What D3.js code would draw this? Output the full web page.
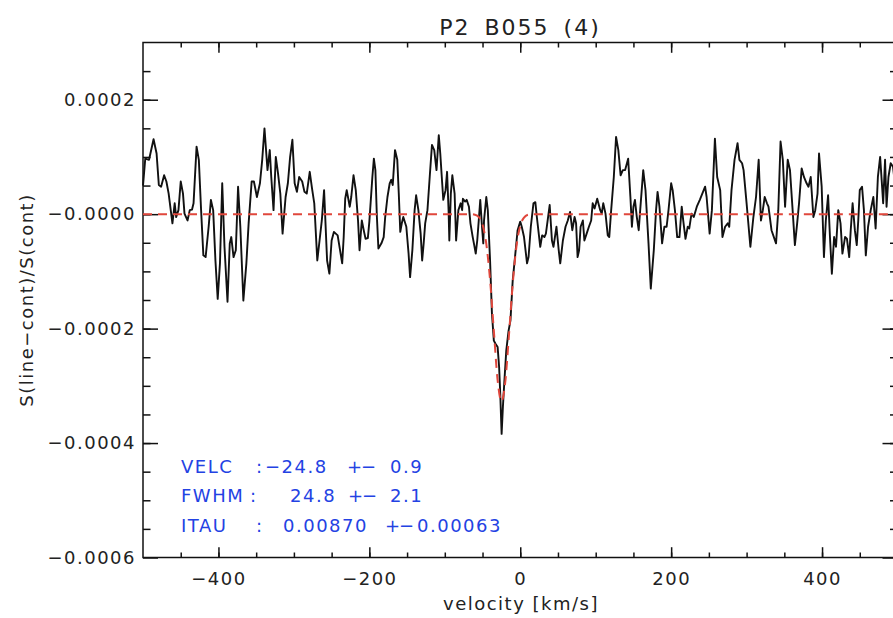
<!DOCTYPE html>
<html>
<head>
<meta charset="utf-8">
<script src="https://cdn.jsdelivr.net/npm/d3@7"></script>
<style>
    body { margin: 0; background: #fff; }
    text { font-family: "DejaVu Sans", sans-serif; fill: #222; }
</style>
</head>
<body>
<div id="chart"></div>
<script>
// Spectrum [velocity km/s, S(line-cont)/S(cont) in units of 1e-4]
const spectrum = [
    [-500, 0.50], [-497, 0.97], [-492, 0.95], [-486, 1.31], [-482, 1.06], [-479, 0.51], [-476, 0.48],
    [-472, 0.68], [-469, 0.57], [-466, 0.36], [-461, -0.16], [-458, 0.19], [-456, -0.05], [-453, 0.07],
    [-450, 0.57], [-447, 0.36], [-445, 0.01], [-441, -0.11], [-438, 0.07], [-435, 0.08], [-433, 0.19],
    [-429, 1.18], [-426, 0.95], [-423, 0.07], [-420, -0.72], [-417, -0.75], [-413, -0.22], [-410, 0.25],
    [-407, 0.07], [-404, -0.81], [-401, -1.48], [-398, -0.86], [-395, 0.54], [-392, -0.57], [-388, -1.53],
    [-385, -0.51], [-383, -0.40], [-380, -0.75], [-377, -0.63], [-374, 0.48], [-371, -0.22], [-367, -1.51],
    [-363, -0.86], [-360, -0.16], [-356, 0.57], [-353, 0.57], [-349, 0.30], [-345, 0.54], [-342, 0.95],
    [-339, 1.50], [-335, 0.77], [-332, 1.12], [-330, 0.65], [-327, 0.07], [-324, 1.00], [-321, 0.71],
    [-318, 0.36], [-315, -0.34], [-311, 0.30], [-308, 0.54], [-305, 1.00], [-302, 1.30], [-299, 0.54],
    [-296, 0.39], [-293, 0.65], [-289, 0.57], [-286, 0.39], [-283, 0.36], [-279, 0.74], [-276, 0.45],
    [-273, 0.19], [-269, -0.81], [-266, -0.46], [-263, -0.11], [-260, 0.42], [-256, -0.81], [-253, -1.04],
    [-250, -0.46], [-247, -0.31], [-242, -0.37], [-236, -0.86], [-234, -0.40], [-232, 0.27], [-230, 0.42],
    [-226, 0.13], [-224, 0.30], [-221, 0.68], [-218, 0.42], [-215, -0.11], [-213, -0.63], [-210, -0.11],
    [-207, -0.31], [-205, -0.43], [-202, -0.42], [-200, -0.13], [-196, 0.65], [-194, 0.97], [-192, 0.77],
    [-190, -0.05], [-188, -0.60], [-184, -0.51], [-181, -0.40], [-179, -0.05], [-176, 0.30], [-173, 0.54],
    [-171, 0.60], [-169, 0.51], [-166, 1.12], [-163, 0.95], [-161, 0.36], [-159, -0.31], [-157, -0.16],
    [-155, -0.05], [-151, -0.22], [-148, -0.69], [-146, -1.10], [-143, -0.63], [-140, 0.07], [-138, 0.33],
    [-135, 0.07], [-132, -0.34], [-130, -0.81], [-128, -0.51], [-126, -0.16], [-123, 0.07], [-120, 0.65],
    [-117, 1.21], [-114, 1.12], [-111, 0.77], [-108, 1.38], [-106, 1.06], [-104, 0.65], [-102, 0.25],
    [-99, 0.42], [-97, 0.74], [-95, 0.07], [-94, -0.46], [-92, 0.36], [-90, 0.68], [-87, 0.36],
    [-85, -0.46], [-82, 0.07], [-79, 0.19], [-77, 0.07], [-76, 0.27], [-73, 0.22], [-71, 0.25],
    [-68, 0.13], [-66, -0.16], [-63, -0.40], [-61, -0.54], [-59, -0.69], [-57, -0.46], [-55, -0.11],
    [-53, 0.25], [-51, -0.16], [-49, -0.51], [-48, -0.11], [-45, 0.30], [-43, 0.07], [-40, -0.81],
    [-37.5, -1.74], [-35, -2.21], [-33, -2.26], [-30, -2.32], [-28, -2.67], [-26.5, -3.14], [-24.7, -3.84],
    [-23, -3.37], [-21, -2.91], [-18.5, -2.38], [-15.5, -2.04], [-13, -1.86], [-10, -1.16], [-6.5, -0.69],
    [-3.5, -0.28], [0, -0.13], [2, -0.22], [5, -0.40], [9, -0.86], [11, -0.75], [14, -0.22],
    [17.5, 0.19], [20, 0.21], [22, -0.05], [26.5, -0.57], [29, -0.37], [32, -0.40], [34, -0.34],
    [39, 0.16], [42, -0.46], [44, -0.57], [48, -0.22], [51, -0.63], [53, -0.86], [56.5, -0.46],
    [60, -0.22], [63, -0.11], [66, 0.04], [69, -0.28], [72, -0.05], [74, -0.16], [76, -0.75],
    [78, -0.63], [80, -0.22], [83, -0.11], [85, -0.46], [88, -0.34], [91, -0.22], [94, -0.11],
    [96, 0.19], [98.5, 0.10], [102, 0.27], [106, 0.07], [108, 0.01], [110, 0.19], [113, 0.01],
    [116, -0.37], [118, -0.40], [120.5, 0.07], [124, 0.65], [127, 1.35], [130, 1.12], [133, 0.68],
    [136, 0.77], [139, 0.77], [143, 0.97], [146, 0.30], [148, -0.22], [150, 0.13], [152, 0.25],
    [154.5, -0.05], [157, -0.28], [160, 0.25], [163, 0.77], [166, 0.42], [170, -0.51], [173, -1.30],
    [177, -0.63], [180, 0.07], [182, 0.39], [184.5, 0.13], [188, -0.51], [191, -0.22], [194, -0.22],
    [196.5, 0.07], [200, 0.54], [202, 0.42], [205, 0.07], [208, -0.40], [211, -0.40], [214, 0.13],
    [216, -0.11], [219, -0.43], [222, -0.22], [224, -0.25], [227, 0.01], [230, -0.05], [234, 0.13],
    [238, 0.25], [245, 0.48], [247, 0.30], [251, -0.34], [254, 0.07], [258, 1.32], [261, 0.65],
    [265, 0.42], [268, -0.40], [271.5, -0.22], [275, -0.16], [277, -0.22], [280, 0.42], [284, 0.95],
    [288, 1.24], [290.5, 0.95], [294, 0.89], [296, 0.77], [300, 0.19], [305, -0.57], [309, -0.05],
    [312.5, 0.30], [316, 0.95], [319, -0.11], [321.5, 0.07], [324, 0.30], [327, 0.19], [329, 0.13],
    [333, -0.28], [339, -0.51], [342, 0.07], [345, 1.27], [348, 0.95], [351, 0.13], [354.5, 0.95],
    [357.5, 0.77], [361, 0.07], [364, -0.54], [367, -0.16], [369.5, 0.19], [373, 0.80], [376, 0.65],
    [379.5, 0.54], [382, 0.48], [385, 0.65], [388.5, -0.05], [391, 0.07], [394, 0.36], [396, 1.06],
    [399.5, 0.48], [402.5, -0.75], [405, -0.11], [408, 0.33], [410.5, -0.40], [413, -1.04], [416, -0.40],
    [418.5, -0.57], [421.5, 0.07], [424.5, -0.16], [427, -0.69], [430.5, -0.40], [433, -0.43], [436, -0.75],
    [438, -0.28], [440.5, 0.19], [443.5, -0.28], [446, -0.54], [448, -0.11], [450, 0.42], [453, 0.48],
    [455.5, 0.07], [458, -0.72], [461, -0.22], [464.5, 0.07], [468, 0.30], [471, -0.25], [474, 0.65],
    [477, 1.00], [479, 0.60], [481, 0.19], [483.5, 0.95], [485.5, 0.13], [488, 0.65], [491, 0.89],
    [494, 0.83], [497, 0.50], [500, 0.90]
];

// Gaussian fit [velocity, value in 1e-4]
const fitCurve = [
    [-500, 0], [-65, 0], [-60, -0.01], [-55, -0.05], [-50, -0.18], [-45, -0.52], [-40, -1.15],
    [-35, -2.04], [-30, -2.90], [-25, -3.27], [-20, -2.95], [-15, -2.12], [-10, -1.22], [-5, -0.56],
    [0, -0.20], [5, -0.06], [10, -0.01], [15, 0], [500, 0]
];

const xTickValues = [-400, -200, 0, 200, 400];
const xTickLabels = ['\u2212400', '\u2212200', '0', '200', '400'];
const yTickValues = [-0.0006, -0.0004, -0.0002, 0, 0.0002];
const yTickLabels = ['\u22120.0006', '\u22120.0004', '\u22120.0002', '\u22120.0000', '0.0002'];

const fitResults = [
    { name: 'VELC', value: '\u221224.8', error: '0.9' },
    { name: 'FWHM', value: '24.8', error: '2.1' },
    { name: 'ITAU', value: '0.00870', error: '0.00063' }
];

// Configuration
const config = {
    width: 893,
    height: 618,
    left: 143, right: 897.5, top: 42.5, bottom: 557.5,
    xDomain: [-500, 500],
    yDomain: [-0.0006, 0.0003],
    scale: 1e-4
};

const svg = d3.select('#chart')
    .append('svg')
    .attr('width', config.width)
    .attr('height', config.height);

const x = d3.scaleLinear().domain(config.xDomain).range([config.left, config.right]);
const y = d3.scaleLinear().domain(config.yDomain).range([config.bottom, config.top]);

// Minor ticks
const xMinor = d3.range(-450, 500, 50);
const yMinor = d3.range(-0.00055, 0.0003, 0.00005);

function styleAxis(g) {
    g.select('.domain').remove();
    g.selectAll('.tick line').attr('stroke', '#111').attr('stroke-width', 1.5);
    g.selectAll('.tick text')
        .style('font-size', '18px')
        .style('letter-spacing', '1.5px')
        .attr('fill', '#222');
}

// bottom axis
svg.append('g')
    .attr('transform', `translate(0,${config.bottom})`)
    .call(d3.axisBottom(x).tickValues(xTickValues).tickSize(-10.3).tickPadding(15)
        .tickFormat((d, i) => xTickLabels[i]))
    .call(styleAxis);
svg.append('g')
    .attr('transform', `translate(0,${config.bottom})`)
    .call(d3.axisBottom(x).tickValues(xMinor).tickSize(-5).tickFormat(''))
    .call(styleAxis);

// top axis
svg.append('g')
    .attr('transform', `translate(0,${config.top})`)
    .call(d3.axisTop(x).tickValues(xTickValues).tickSize(-10.3).tickFormat(''))
    .call(styleAxis);
svg.append('g')
    .attr('transform', `translate(0,${config.top})`)
    .call(d3.axisTop(x).tickValues(xMinor).tickSize(-5).tickFormat(''))
    .call(styleAxis);

// left axis
svg.append('g')
    .attr('transform', `translate(${config.left},0)`)
    .call(d3.axisLeft(y).tickValues(yTickValues).tickSize(-15).tickPadding(7)
        .tickFormat((d, i) => yTickLabels[i]))
    .call(styleAxis);
svg.append('g')
    .attr('transform', `translate(${config.left},0)`)
    .call(d3.axisLeft(y).tickValues(yMinor).tickSize(-7.5).tickFormat(''))
    .call(styleAxis);

// right axis
svg.append('g')
    .attr('transform', `translate(${config.right},0)`)
    .call(d3.axisRight(y).tickValues(yTickValues).tickSize(-15).tickFormat(''))
    .call(styleAxis);
svg.append('g')
    .attr('transform', `translate(${config.right},0)`)
    .call(d3.axisRight(y).tickValues(yMinor).tickSize(-7.5).tickFormat(''))
    .call(styleAxis);

// frame
svg.append('rect')
    .attr('x', config.left)
    .attr('y', config.top)
    .attr('width', config.right - config.left)
    .attr('height', config.bottom - config.top)
    .attr('fill', 'none')
    .attr('stroke', '#111')
    .attr('stroke-width', 1.5);

// spectrum
const line = d3.line()
    .x(d => x(d[0]))
    .y(d => y(d[1] * config.scale));

svg.append('path')
    .datum(spectrum)
    .attr('fill', 'none')
    .attr('stroke', '#111')
    .attr('stroke-width', 1.9)
    .attr('stroke-linejoin', 'round')
    .attr('d', line);

// fit
svg.append('path')
    .datum(fitCurve)
    .attr('fill', 'none')
    .attr('stroke', '#e0473c')
    .attr('stroke-width', 2)
    .attr('stroke-dasharray', '9,6')
    .attr('d', line.curve(d3.curveMonotoneX));

// title
svg.append('text')
    .attr('x', 520)
    .attr('y', 35)
    .attr('text-anchor', 'middle')
    .style('font-size', '22px')
    .style('letter-spacing', '2px')
    .style('word-spacing', '5px')
    .text('P2 B055 (4)');

// axis labels
svg.append('text')
    .attr('x', 521)
    .attr('y', 610)
    .attr('text-anchor', 'middle')
    .style('font-size', '18px')
    .style('letter-spacing', '1.5px')
    .text('velocity [km/s]');

svg.append('text')
    .attr('transform', 'translate(33,300) rotate(-90)')
    .attr('text-anchor', 'middle')
    .style('font-size', '18px')
    .style('letter-spacing', '1.5px')
    .text('S(line\u2212cont)/S(cont)');

// fit results
const cols = { name: 181, colon: [256, 250, 256], value: [265, 290, 283], pm: [347, 348, 385], error: [390, 390, 417] };
const resText = svg.append('g')
    .style('font-size', '18px')
    .style('letter-spacing', '1.5px');
fitResults.forEach((r, i) => {
    const ty = 473 + i * 29.3;
    const t = resText.append('text').attr('y', ty).style('fill', '#2342e3');
    t.append('tspan').attr('x', cols.name).text(r.name);
    t.append('tspan').attr('x', cols.colon[i]).text(':');
    t.append('tspan').attr('x', cols.value[i]).text(r.value);
    t.append('tspan').attr('x', cols.pm[i]).style('letter-spacing', '-1px').text('+\u2212');
    t.append('tspan').attr('x', cols.error[i]).text(r.error);
});
</script>
</body>
</html>
